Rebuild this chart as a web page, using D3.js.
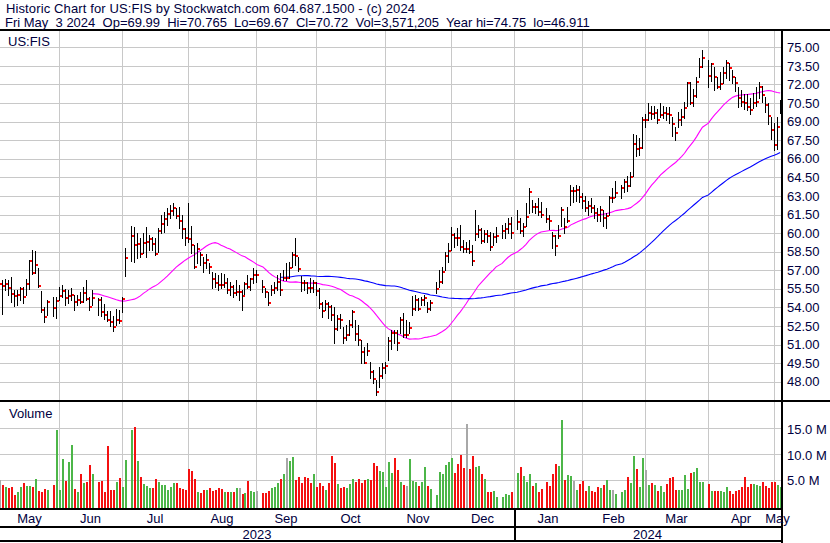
<!DOCTYPE html>
<html><head><meta charset="utf-8">
<script src="https://cdn.jsdelivr.net/npm/d3@7"></script>
<style>
html,body{margin:0;padding:0;background:#fff;}
svg{display:block;font-family:"Liberation Sans",Arial,sans-serif;}
</style></head><body>
<svg id="chart" width="830" height="543"></svg>
<script>
// Slots are weekdays; index 0 of each array = slot -1 (May 4 2023), last = slot 260 (May 3 2024). null = market holiday.
const firstSlot = -1;
const high = [56.4,
56.21,56.27,56.21,56.43,55.41,55.41,55.68,55.68,56.27,57.83,
58.64,58.53,57.16,55.33,54.06,54.6,null,54.81,54.87,55.62,
55.81,55.46,55.41,55.54,55.0,54.98,55.27,55.68,56.21,54.87,
55.41,null,54.73,54.8,54.3,53.7,53.7,53.3,53.9,53.8,
54.8,58.77,null,60.6,60.52,59.98,59.58,59.98,60.46,59.85,
59.71,59.58,60.38,61.46,61.73,62.0,62.27,62.4,62.0,62.13,
61.46,60.4,62.4,60.6,59.04,59.17,58.5,58.1,58.28,57.56,
56.88,56.75,56.62,56.75,56.67,56.35,56.08,55.81,56.21,55.81,
55.4,56.08,56.62,56.4,57.15,57.02,null,56.21,55.54,55.27,
55.81,56.08,56.62,56.75,57.02,57.6,57.7,58.5,59.6,58.1,
56.5,56.2,56.08,56.35,56.21,56.08,55.54,54.46,54.6,54.46,
54.19,54.06,53.39,53.5,52.44,52.58,52.98,53.79,52.98,52.58,
51.37,50.83,51.1,49.62,48.95,48.14,49.2,49.48,49.6,51.64,
52.2,52.18,52.18,53.25,53.52,52.98,52.85,54.9,55.0,54.73,
54.87,55.0,54.46,54.6,null,56.08,57.02,57.29,58.5,59.17,
60.52,60.0,60.38,60.65,59.44,59.31,59.44,59.04,61.86,60.65,
60.38,60.25,60.25,60.11,59.98,60.52,null,60.65,60.79,61.19,
61.33,null,61.86,61.19,60.79,62.4,63.61,62.67,62.4,62.8,
62.5,null,62.0,61.46,60.11,59.85,60.65,62.13,61.19,62.13,
63.88,63.75,63.88,63.8,63.2,63.0,62.6,62.8,62.3,62.0,
62.2,61.9,61.6,63.0,63.6,64.2,null,63.9,64.4,64.6,
64.9,68.0,67.9,67.7,69.4,69.6,70.5,70.3,70.3,70.0,
70.5,70.3,70.2,70.2,69.4,68.6,69.8,70.0,70.6,72.2,
72.2,71.6,72.6,74.1,74.75,null,73.97,73.7,73.44,72.63,
73.03,73.44,73.97,73.7,73.17,72.63,71.82,71.55,71.2,71.2,
70.9,71.28,71.82,72.2,71.9,71.0,70.5,69.4,68.86,69.4,
70.765];
const low = [53.6,
53.47,55.41,55.0,54.46,54.14,54.2,54.6,54.33,55.0,55.51,
56.7,56.75,55.68,53.63,52.85,53.39,null,53.31,53.12,54.6,
54.87,54.2,54.33,54.6,53.79,54.2,54.33,54.46,54.6,53.79,
54.2,null,53.39,53.3,53.1,52.9,52.5,52.1,52.6,52.7,
53.6,56.56,null,57.75,57.69,57.96,58.1,58.37,58.1,58.63,
58.63,58.23,58.5,59.98,60.11,60.65,61.19,61.46,61.19,60.38,
59.58,59.0,59.3,58.4,57.15,57.6,57.4,56.88,57.15,56.8,
55.54,55.67,55.4,55.54,55.67,55.14,55.0,54.87,55.0,54.6,
53.79,55.0,55.54,55.4,55.94,56.08,null,55.27,54.87,54.19,
55.0,55.14,55.4,55.0,56.21,56.2,56.35,57.3,57.4,56.9,
55.3,55.4,55.14,55.27,55.27,55.0,53.93,53.25,53.79,53.12,
52.98,51.1,52.18,52.3,51.1,51.37,51.77,52.44,51.37,50.96,
49.48,49.48,50.16,48.27,47.87,46.911,47.6,48.27,48.7,49.75,
50.6,51.1,50.56,51.9,51.64,51.64,51.9,53.39,53.79,53.79,
54.2,54.2,53.66,53.79,null,55.14,55.67,55.94,57.02,57.69,
58.63,58.9,59.04,58.63,58.5,58.5,58.37,57.42,59.44,59.71,
59.17,59.31,59.31,58.63,59.04,59.31,null,59.6,59.58,60.0,
59.58,null,60.3,60.0,59.8,60.6,61.6,61.7,61.6,61.5,
61.3,null,60.9,60.3,58.8,58.23,59.6,60.6,60.0,60.9,
62.3,62.5,62.6,62.5,62.0,61.8,61.5,61.7,61.2,61.0,
61.0,60.6,60.4,61.5,62.5,62.9,null,62.8,63.3,63.4,
63.8,64.6,66.2,66.3,66.9,68.6,69.1,69.2,69.3,68.9,
69.4,69.3,69.1,68.9,67.8,67.5,68.6,68.7,69.3,70.3,
70.4,70.3,71.0,72.6,73.4,null,71.82,72.3,71.55,71.69,
71.6,72.1,72.5,72.4,72.09,71.5,70.2,70.3,70.0,69.9,
69.6,70.1,70.3,70.9,70.6,69.8,68.8,67.6,66.71,66.8,
69.67];
const close = [55.9,
55.73,55.89,55.57,55.08,54.92,55.0,55.49,54.84,55.89,57.77,
56.81,57.42,55.73,53.79,53.25,54.44,null,53.95,54.55,54.92,
55.35,54.73,54.92,55.0,54.44,54.6,54.44,55.19,54.71,54.06,
54.79,null,54.6,53.6,53.4,53.0,52.8,52.4,53.0,52.9,
54.65,57.96,null,59.79,59.04,59.12,58.31,59.23,59.25,59.5,
59.09,58.31,60.17,60.73,61.14,61.54,61.78,62.0,61.38,60.98,
60.33,59.6,59.5,59.0,57.26,58.71,58.23,57.61,57.83,57.26,
56.27,56.0,55.81,55.78,55.94,55.38,55.67,55.19,55.27,55.27,
54.89,55.92,55.67,56.27,56.62,56.62,null,55.67,55.27,54.38,
55.4,55.59,56.02,55.4,56.4,56.4,57.2,58.2,58.15,57.1,
56.0,55.94,55.59,55.54,55.94,55.32,54.27,53.71,54.27,54.06,
53.39,52.26,53.09,53.0,51.56,51.8,52.6,53.6,51.85,51.37,
50.42,49.54,50.5,48.81,48.22,47.17,48.43,49.13,49.3,51.31,
51.96,51.9,51.1,52.98,51.77,51.77,52.36,53.9,54.6,53.87,
54.6,54.73,53.87,54.38,null,55.49,56.02,56.83,58.15,58.55,
59.87,59.6,59.58,58.9,58.7,58.7,58.45,57.72,59.95,60.25,
59.39,59.93,59.79,58.85,59.66,59.79,null,60.17,60.33,60.73,
60.03,null,60.92,60.2,60.46,61.33,63.29,62.08,62.13,61.73,
61.5,null,61.11,61.0,59.77,58.98,59.77,61.86,60.46,61.0,
63.43,63.43,63.48,62.9,62.6,62.0,62.2,62.0,61.6,61.5,
61.9,61.2,61.4,62.8,62.8,63.2,null,63.6,64.1,63.8,
64.5,67.2,66.8,66.9,69.1,69.1,69.7,69.6,69.7,69.1,
69.5,69.7,69.6,69.5,68.8,68.05,69.1,69.4,70.1,72.1,
70.5,71.1,72.2,73.4,74.1,null,72.68,73.65,72.58,71.82,
72.0,72.9,73.76,73.3,72.58,72.09,70.88,70.61,70.53,70.21,
69.94,70.47,70.58,71.82,71.15,70.34,69.45,68.3,67.11,68.54,
70.72];
// volume in millions of shares
const volume = [4.85,
3.95,3.56,3.37,3.5,2.09,2.67,3.5,4.34,3.76,3.76,
3.56,5.1,2.86,2.6,3.2,3.0,null,3.95,14.7,3.0,
8.96,4.78,8.38,11.66,3.18,2.67,6.07,4.34,4.53,7.8,
6.07,null,4.46,4.72,2.54,11.6,3.05,2.99,4.46,5.3,
3.6,8.83,null,14.7,15.19,8.64,5.43,4.2,3.69,3.31,
3.37,5.23,4.53,3.95,3.89,3.05,3.56,4.4,4.34,3.31,
3.24,3.0,7.03,6.71,5.17,2.6,2.47,2.92,2.92,3.31,
2.86,2.99,3.31,3.18,2.6,2.54,2.67,2.67,3.37,3.37,
2.28,2.34,4.78,2.86,2.6,2.86,null,2.41,2.41,2.86,
3.31,3.5,4.4,5.17,6.07,9.22,8.64,9.41,4.85,5.49,
4.34,5.56,5.36,4.34,6.07,3.5,4.34,3.69,3.05,4.34,
9.6,8.32,4.2,3.31,3.63,3.44,4.08,5.1,4.46,5.17,
4.27,4.98,5.17,4.98,8.19,7.67,6.65,6.52,3.6,8.51,
6.26,9.15,6.84,4.46,3.95,3.8,8.96,4.66,4.53,3.69,
4.6,7.42,3.82,3.2,null,2.09,6.45,6.07,7.87,8.51,
9.15,6.26,8.12,9.79,7.23,15.9,7.03,9.6,7.55,7.67,
6.07,5.23,2.6,2.67,2.86,1.64,null,1.64,2.2,2.0,
2.6,null,6.26,7.55,5.75,4.46,6.07,3.82,4.27,2.6,
3.2,null,4.46,3.76,6.07,8.12,7.67,16.67,4.85,5.88,
5.68,4.66,3.05,4.2,4.72,2.73,3.69,2.79,2.54,3.5,
3.31,3.89,4.85,3.05,3.05,2.28,null,2.67,2.92,5.49,
4.27,9.6,7.03,3.63,9.15,6.9,3.95,4.27,4.01,2.79,
3.69,2.54,4.14,5.3,5.62,3.05,3.05,3.05,5.94,3.24,
6.26,6.52,7.23,4.46,4.46,null,4.14,2.79,2.73,2.86,
2.86,2.67,3.56,2.73,2.28,2.73,3.05,3.56,5.62,3.5,
4.14,4.14,3.95,3.69,4.53,3.8,3.3,4.5,4.53,3.95,
3.571205];
const priceTicks = [48,49.5,51,52.5,54,55.5,57,58.5,60,61.5,63,64.5,66,67.5,69,70.5,72,73.5,75];
const volTicks = [5,10,15];
const monthLabels = ["May","Jun","Jul","Aug","Sep","Oct","Nov","Dec","Jan","Feb","Mar","Apr","May"];
const monthGridSlots = [19,40,62,85,105,128,150,171,194,215,236,258];
const yearLabels = ["2023","2024"];
const yearBreakSlot = 171;
const maFast = 30, maSlow = 90;
const header1 = "Historic Chart for US:FIS by Stockwatch.com 604.687.1500 - (c) 2024";
const header2 = "Fri May  3 2024  Op=69.99  Hi=70.765  Lo=69.67  Cl=70.72  Vol=3,571,205  Year hi=74.75  lo=46.911";

const svg = d3.select("#chart");
const W = 830, H = 543;
const plotL = 0, plotR = 781;
const priceTop = 31, priceBot = 400, volTop = 402, volBot = 508;
const txt = "#000040", grid = "#c8c8c8";

const xs = d3.scaleLinear().domain([0, 260]).range([2.8, 780.2]);
const yP = d3.scaleLinear().domain([48, 75]).range([381.7, 47.3]);
const yV = d3.scaleLinear().domain([0, 15]).range([505.4, 428.3]);
const px = s => Math.floor(xs(s));

const bars = high.map((h, i) => ({s: i + firstSlot, h, l: low[i], c: close[i], v: volume[i]})).filter(d => d.h != null);
bars.forEach((d, i) => {
  const p = i > 0 ? bars[i - 1].c : null;
  d.dir = p == null ? 0 : (d.c > p ? 1 : d.c < p ? -1 : 0);
});

const defs = svg.append("defs");
defs.append("clipPath").attr("id","cp").append("rect").attr("x",plotL).attr("y",priceTop).attr("width",plotR-plotL).attr("height",priceBot-priceTop);
defs.append("clipPath").attr("id","cv").append("rect").attr("x",plotL).attr("y",volTop).attr("width",plotR-plotL).attr("height",volBot-volTop);

svg.append("rect").attr("width",W).attr("height",H).attr("fill","#fff");

// gridlines
const g = svg.append("g").attr("stroke", grid).attr("stroke-width", 1).attr("shape-rendering","crispEdges");
priceTicks.forEach(t => g.append("line").attr("x1",plotL).attr("x2",plotR).attr("y1",Math.round(yP(t))+0.5).attr("y2",Math.round(yP(t))+0.5));
volTicks.forEach(t => g.append("line").attr("x1",plotL).attr("x2",plotR).attr("y1",Math.round(yV(t))+0.5).attr("y2",Math.round(yV(t))+0.5));
monthGridSlots.forEach(s => {
  const x = px(s) + 0.5;
  g.append("line").attr("x1",x).attr("x2",x).attr("y1",priceTop).attr("y2",priceBot);
  g.append("line").attr("x1",x).attr("x2",x).attr("y1",volTop).attr("y2",volBot);
});

// moving averages (from slot 0 on)
function sma(n) {
  const src = bars.filter(d => d.s >= 0);
  const out = [];
  for (let i = n - 1; i < src.length; i++) {
    out.push({s: src[i].s, v: d3.mean(src.slice(i - n + 1, i + 1), d => d.c)});
  }
  return out;
}
const line = d3.line().x(d => xs(d.s)).y(d => yP(d.v));
const pg = svg.append("g").attr("clip-path","url(#cp)");
pg.append("path").datum(sma(maFast)).attr("d", line).attr("fill","none").attr("stroke","#ff00ff").attr("stroke-width",1.1);
pg.append("path").datum(sma(maSlow)).attr("d", line).attr("fill","none").attr("stroke","#0000ff").attr("stroke-width",1.1);

// price bars
pg.selectAll("line.bar").data(bars).join("line").attr("class","bar")
  .attr("x1", d => px(d.s) + 0.5).attr("x2", d => px(d.s) + 0.5)
  .attr("y1", d => Math.round(yP(d.h))).attr("y2", d => Math.round(yP(d.l)) + 1)
  .attr("stroke","#000").attr("stroke-width",1).attr("shape-rendering","crispEdges");
pg.selectAll("rect.cl").data(bars).join("rect").attr("class","cl")
  .attr("x", d => px(d.s) + 1).attr("y", d => Math.round(yP(d.c)) - 1)
  .attr("width", 2).attr("height", 2).attr("fill","#ff0000").attr("shape-rendering","crispEdges");

// volume bars
const vg = svg.append("g").attr("clip-path","url(#cv)");
vg.selectAll("rect").data(bars).join("rect")
  .attr("x", d => px(d.s)).attr("width", 2)
  .attr("y", d => Math.round(yV(d.v))).attr("height", d => volBot - Math.round(yV(d.v)))
  .attr("fill", d => d.dir > 0 ? "#4cb648" : d.dir < 0 ? "#f41010" : "#a8a8a8")
  .attr("shape-rendering","crispEdges");

// frame lines
const fr = svg.append("g").attr("fill","#000").attr("shape-rendering","crispEdges");
fr.append("rect").attr("x",0).attr("y",29).attr("width",W).attr("height",2);
fr.append("rect").attr("x",781).attr("y",29).attr("width",2).attr("height",H-29);
fr.append("rect").attr("x",0).attr("y",400).attr("width",W).attr("height",2);
fr.append("rect").attr("x",0).attr("y",508).attr("width",783).attr("height",2);
fr.append("rect").attr("x",0).attr("y",526).attr("width",783).attr("height",1.5);
fr.append("rect").attr("x",0).attr("y",540).attr("width",783).attr("height",2);
fr.append("rect").attr("x",px(yearBreakSlot)).attr("y",510).attr("width",1.5).attr("height",30);

// texts
const T = svg.append("g").attr("fill", txt).attr("font-size", 13);
T.append("text").attr("x",6).attr("y",13).attr("xml:space","preserve").style("white-space","pre")
  .attr("textLength",409).attr("lengthAdjust","spacing").text(header1);
T.append("text").attr("x",5).attr("y",27).attr("xml:space","preserve").style("white-space","pre").text(header2);
T.append("text").attr("x",8).attr("y",46).text("US:FIS");
T.append("text").attr("x",9).attr("y",418).text("Volume");
priceTicks.forEach(t => T.append("text").attr("x",787).attr("y",yP(t)).attr("dy","0.36em").text(t.toFixed(2)));
volTicks.forEach(t => T.append("text").attr("x",787).attr("y",yV(t)+1).attr("dy","0.36em").text(t.toFixed(1) + " M"));
const bounds = [plotL, ...monthGridSlots.map(s => px(s)), plotR];
monthLabels.forEach((m, i) => T.append("text").attr("x",(bounds[i] + bounds[i+1]) / 2).attr("y",523).attr("text-anchor","middle").text(m));
const yb = [plotL, px(yearBreakSlot), plotR];
yearLabels.forEach((y, i) => T.append("text").attr("x",(yb[i] + yb[i+1]) / 2).attr("y",539).attr("text-anchor","middle").text(y));
</script>
</body></html>
